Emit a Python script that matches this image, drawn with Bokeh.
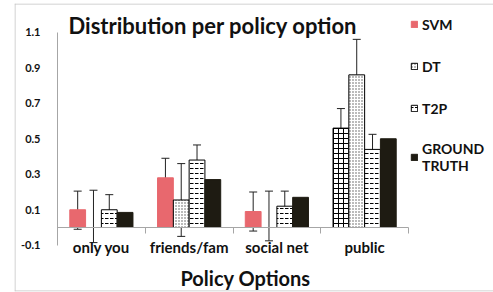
import numpy as np
from bokeh.plotting import figure
from bokeh.models import (ColumnDataSource, Whisker, TeeHead, FixedTicker, LinearAxis,
                          Label, Legend, LegendItem, Span, Range1d)
from bokeh.embed import file_html
from bokeh.resources import INLINE

# ---- data ----
categories = ["only you", "friends/fam", "social net", "public"]
series_names = ["SVM", "DT", "T2P", "GROUND\nTRUTH"]
svm = [0.10, 0.28, 0.09, 0.56]
svm_low = [-0.01, 0.17, -0.02, 0.45]
svm_high = [0.205, 0.39, 0.20, 0.67]
dt = [0.0, 0.155, 0.0, 0.86]
dt_low = [-0.085, -0.05, -0.075, 0.66]
dt_high = [0.21, 0.36, 0.205, 1.06]
t2p = [0.10, 0.38, 0.12, 0.44]
t2p_low = [0.005, 0.29, 0.02, 0.35]
t2p_high = [0.185, 0.465, 0.205, 0.525]
ground_truth = [0.085, 0.27, 0.17, 0.50]
y_ticks = [-0.1, 0.1, 0.3, 0.5, 0.7, 0.9, 1.1]
y_tick_labels = ["-0.1", "0.1", "0.3", "0.5", "0.7", "0.9", "1.1"]

# ---- styles ----
FONT = "Lato"
RED = "#E8686E"
DARK = "#1E1B12"
AXIS = "#A6A6A6"
BORDER = "#C4C4C4"
TXT = "#111111"
svm_fill = [RED, RED, RED, "white"]
svm_line = [RED, RED, RED, "black"]
svm_hatch = [" ", " ", " ", "cross"]

n = len(categories)
centers = np.arange(n) + 0.5
offsets = [-0.27, -0.09, 0.09, 0.27]
bar_w = 0.18

W, H = 493, 292
PX_X, PX_Y = 87.75, 177.5          # pixels per data unit
x0 = -43 / PX_X
x1 = 436 / PX_X
y0 = -64 / PX_Y
y1 = 224 / PX_Y

p = figure(width=W, height=H, output_backend="svg", toolbar_location=None,
           x_range=Range1d(x0, x1), y_range=Range1d(y0, y1),
           min_border_left=14, min_border_right=0, min_border_top=3, min_border_bottom=1,
           x_axis_location=None, y_axis_location=None)
p.grid.visible = False
p.outline_line_color = None
p.background_fill_color = "white"
p.border_fill_color = "white"

# chart-area border (left, top, bottom)
p.add_layout(Span(location=x0 + 0.5 / PX_X, dimension="height", line_color=BORDER, line_width=1))
p.add_layout(Span(location=y1 - 0.5 / PX_Y, dimension="width", line_color=BORDER, line_width=1))
p.add_layout(Span(location=y0 + 0.5 / PX_Y, dimension="width", line_color=BORDER, line_width=1))

src_svm = ColumnDataSource(dict(x=centers + offsets[0], top=svm, low=svm_low, high=svm_high,
                                fill=svm_fill, line=svm_line, hatch=svm_hatch))
src_dt = ColumnDataSource(dict(x=centers + offsets[1], top=dt, low=dt_low, high=dt_high))
src_t2p = ColumnDataSource(dict(x=centers + offsets[2], top=t2p, low=t2p_low, high=t2p_high))
src_gt = ColumnDataSource(dict(x=centers + offsets[3], top=ground_truth))

r_svm = p.vbar(x="x", top="top", bottom=0, width=bar_w, source=src_svm,
               fill_color="fill", line_color="line", hatch_pattern="hatch",
               hatch_color="black", hatch_scale=5, hatch_weight=1)
r_dt = p.vbar(x="x", top="top", bottom=0, width=bar_w, source=src_dt,
              fill_color="white", line_color="black", line_width=1,
              hatch_pattern="dot", hatch_color="#555555", hatch_scale=3, hatch_weight=1)
r_t2p = p.vbar(x="x", top="top", bottom=0, width=bar_w, source=src_t2p,
               fill_color="white", line_color="black", line_width=1,
               hatch_pattern="horizontal_dash", hatch_color="black", hatch_scale=5, hatch_weight=1)
r_gt = p.vbar(x="x", top="top", bottom=0, width=bar_w, source=src_gt,
              fill_color=DARK, line_color=DARK)

for src in (src_svm, src_dt, src_t2p):
    w = Whisker(source=src, base="x", upper="high", lower="low", line_color="#222222", line_width=1,
                upper_head=TeeHead(size=8, line_color="#222222", line_width=1),
                lower_head=TeeHead(size=8, line_color="#222222", line_width=1))
    p.add_layout(w)

# y axis drawn at x=0 inside the frame
ya = LinearAxis(fixed_location=0, ticker=FixedTicker(ticks=y_ticks),
                major_label_overrides={t: l for t, l in zip(y_ticks, y_tick_labels)},
                bounds=(y_ticks[0], y_ticks[-1]), axis_line_color=AXIS,
                major_tick_line_color=None, minor_tick_line_color=None,
                major_label_standoff=11, major_label_text_font=FONT,
                major_label_text_font_style="bold", major_label_text_font_size="11px",
                major_label_text_color=TXT)
p.add_layout(ya, "left")

# x axis at y=0: tick marks at category boundaries, labels at category centres
boundaries = list(range(n + 1))
ticks_and_labels = boundaries + [float(c) for c in centers]
x_overrides = {b: "" for b in boundaries}
x_overrides.update({float(c): name for c, name in zip(centers, categories)})
ax = LinearAxis(fixed_location=0, ticker=FixedTicker(ticks=boundaries, minor_ticks=[]),
                bounds=(0, n), axis_line_color=AXIS, major_tick_line_color=AXIS,
                major_tick_out=6, major_tick_in=0, minor_tick_line_color=None,
                major_label_overrides={b: "" for b in boundaries},
                major_label_text_font_size="11px")
p.add_layout(ax, "below")
ax_labels = LinearAxis(fixed_location=0, ticker=FixedTicker(ticks=list(centers)),
                       major_label_overrides={float(c): name for c, name in zip(centers, categories)},
                       axis_line_color=None, major_tick_line_color=None, minor_tick_line_color=None,
                       major_label_standoff=4, major_label_text_font=FONT,
                       major_label_text_font_style="bold", major_label_text_font_size="15px",
                       major_label_text_color=TXT)
p.add_layout(ax_labels, "below")

# titles
p.add_layout(Label(x=54, y=266, x_units="screen", y_units="screen",
                   text="Distribution per policy option", text_font=FONT, text_font_style="bold",
                   text_font_size="22px", text_baseline="middle", text_color=TXT))
p.add_layout(Label(x=231, y=14, x_units="screen", y_units="screen",
                   text="Policy Options", text_font=FONT, text_font_style="bold",
                   text_font_size="20px", text_baseline="middle", text_align="center",
                   text_color=TXT))

legend = Legend(items=[LegendItem(label=series_names[0], renderers=[r_svm], index=0),
                       LegendItem(label=series_names[1], renderers=[r_dt]),
                       LegendItem(label=series_names[2], renderers=[r_t2p]),
                       LegendItem(label=series_names[3], renderers=[r_gt])],
                location=(396, 117), orientation="vertical", glyph_width=8, glyph_height=8,
                label_standoff=4, label_text_font=FONT, label_text_font_style="bold",
                label_text_font_size="14px", label_height=20, spacing=22, padding=0, margin=0,
                border_line_color=None, background_fill_alpha=0, label_text_color=TXT)
p.add_layout(legend)

open("out.html", "w").write(file_html(p, INLINE))
